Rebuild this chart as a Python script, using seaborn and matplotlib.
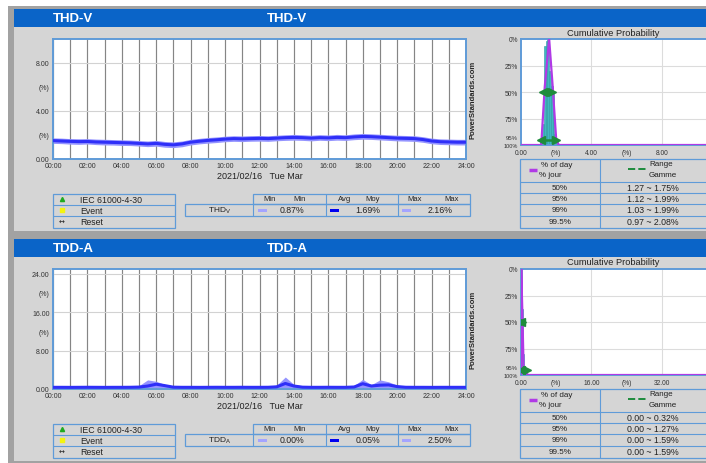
import numpy as np
import matplotlib
matplotlib.use('Agg')
import matplotlib.pyplot as plt
import seaborn as sns
from matplotlib.patches import Rectangle

sns.set_style('white')
plt.rcParams['font.family'] = ['Liberation Sans', 'DejaVu Sans']

# time axis: half-hour samples over one day
hours = np.arange(0, 24.5, 0.5)

thd_avg = [1.53, 1.50, 1.47, 1.45, 1.46, 1.42, 1.40, 1.38, 1.36, 1.34, 1.30, 1.26, 1.30,
           1.22, 1.18, 1.26, 1.40, 1.48, 1.55, 1.60, 1.66, 1.70, 1.68, 1.70, 1.72, 1.70,
           1.74, 1.78, 1.80, 1.78, 1.74, 1.78, 1.76, 1.80, 1.78, 1.84, 1.88, 1.86, 1.82,
           1.78, 1.74, 1.72, 1.70, 1.62, 1.50, 1.44, 1.42, 1.40, 1.40]
thd_min = [1.30, 1.28, 1.24, 1.22, 1.25, 1.20, 1.17, 1.16, 1.13, 1.12, 1.08, 1.03, 1.07,
           0.98, 0.95, 1.02, 1.17, 1.26, 1.32, 1.37, 1.44, 1.47, 1.45, 1.48, 1.49, 1.47,
           1.52, 1.55, 1.57, 1.55, 1.51, 1.56, 1.53, 1.57, 1.55, 1.61, 1.65, 1.63, 1.59,
           1.55, 1.51, 1.49, 1.47, 1.39, 1.27, 1.21, 1.19, 1.17, 1.17]
thd_max = [1.76, 1.74, 1.70, 1.69, 1.70, 1.66, 1.64, 1.62, 1.60, 1.58, 1.54, 1.50, 1.55,
           1.46, 1.43, 1.50, 1.64, 1.72, 1.79, 1.84, 1.90, 1.94, 1.92, 1.95, 1.96, 1.94,
           1.98, 2.02, 2.05, 2.02, 1.98, 2.03, 2.00, 2.05, 2.02, 2.09, 2.13, 2.10, 2.06,
           2.02, 1.98, 1.96, 1.94, 1.86, 1.74, 1.68, 1.66, 1.64, 1.64]

tdd_avg = [0.35, 0.35, 0.34, 0.35, 0.36, 0.35, 0.34, 0.35, 0.35, 0.36, 0.40, 0.62, 1.00,
           0.70, 0.38, 0.35, 0.35, 0.34, 0.35, 0.36, 0.35, 0.35, 0.36, 0.35, 0.35, 0.36,
           0.45, 1.15, 0.62, 0.38, 0.35, 0.35, 0.36, 0.35, 0.35, 0.42, 1.10, 0.62, 0.80,
           0.85, 0.50, 0.36, 0.35, 0.35, 0.34, 0.35, 0.35, 0.35, 0.35]
tdd_min = [0.12, 0.10, 0.12, 0.11, 0.10, 0.12, 0.11, 0.10, 0.12, 0.11, 0.12, 0.20, 0.30,
           0.20, 0.12, 0.11, 0.10, 0.12, 0.11, 0.10, 0.12, 0.11, 0.10, 0.12, 0.11, 0.12,
           0.18, 0.30, 0.18, 0.12, 0.10, 0.11, 0.12, 0.10, 0.11, 0.15, 0.30, 0.20, 0.25,
           0.25, 0.15, 0.12, 0.11, 0.10, 0.12, 0.11, 0.10, 0.12, 0.11]
tdd_max = [0.60, 0.58, 0.60, 0.62, 0.60, 0.58, 0.60, 0.61, 0.60, 0.62, 0.70, 1.90, 1.60,
           0.95, 0.62, 0.60, 0.60, 0.58, 0.60, 0.62, 0.60, 0.60, 0.61, 0.60, 0.60, 0.62,
           0.80, 2.50, 0.95, 0.64, 0.60, 0.60, 0.61, 0.60, 0.60, 0.75, 2.00, 0.90, 1.90,
           1.50, 0.80, 0.62, 0.60, 0.60, 0.58, 0.60, 0.60, 0.60, 0.60]

# cumulative probability panels (y in % of day, 0 at top)
thd_bins = [1.05, 1.15, 1.25, 1.35, 1.45, 1.55, 1.65, 1.75, 1.85, 1.95, 2.05, 2.15]
thd_hist = [1, 3, 20, 93, 98, 100, 70, 56, 50, 10, 4, 1]
thd_curve_x = [0, 1.15, 1.35, 1.6, 1.8, 2.0, 2.15, 20]
thd_curve_y = [100, 100, 45, 0, 45, 95, 100, 100]
thd_ranges = [(50, 1.27, 1.75), (95, 1.12, 1.99)]

tdd_bins = [0.1, 0.3, 0.5, 0.7, 0.9, 1.1, 1.3, 1.5]
tdd_hist = [100, 62, 20, 8, 4, 2, 1, 1]
tdd_curve_x = [0, 0.05, 0.3, 0.6, 1.6, 80]
tdd_curve_y = [100, 0, 40, 95, 100, 100]
tdd_ranges = [(50, 0.00, 0.32), (95, 0.00, 1.27)]

pct_rows = ['50%', '95%', '99%', '99.5%']
thd_table = ['1.27 ~ 1.75%', '1.12 ~ 1.99%', '1.03 ~ 1.99%', '0.97 ~ 2.08%']
tdd_table = ['0.00 ~ 0.32%', '0.00 ~ 1.27%', '0.00 ~ 1.59%', '0.00 ~ 1.59%']

thd_stats = ['0.87%', '1.69%', '2.16%']
tdd_stats = ['0.00%', '0.05%', '2.50%']

W, H = 706, 464
PANEL = '#d5d5d5'
FRAME = '#a2a2a2'
HEADER = '#0a64c8'
EDGE = '#5f9bd8'
MAGENTA = '#b03ae6'
GREEN = '#1e8c3c'
TEAL = '#3fb8c0'

fig = plt.figure(figsize=(W / 100, H / 100), dpi=100)
bg = fig.add_axes([0, 0, 1, 1])
bg.set_xlim(0, W)
bg.set_ylim(H, 0)
bg.axis('off')


def rect(x0, y0, x1, y1, fc='none', ec='none', lw=0.8):
    bg.add_patch(Rectangle((x0, y0), x1 - x0, y1 - y0, facecolor=fc, edgecolor=ec, lw=lw))


def seg(xs, ys, color=EDGE, lw=0.8):
    bg.plot(xs, ys, color=color, lw=lw, solid_capstyle='butt')


def add_ax(l, t, r, b):
    return fig.add_axes([l / W, 1 - b / H, (r - l) / W, (b - t) / H])


def box(ax):
    for s in ax.spines.values():
        s.set_color(EDGE)
        s.set_linewidth(1.4)


def txt(x, y, s, size=5.8, ha='center', **kw):
    bg.text(x, y, s, fontsize=size, ha=ha, va='center', color='#222222', **kw)


rect(8, 7, W + 5, H + 5, fc=FRAME)


def panel(off, title, lo, avg, hi, ymax, yticks, ylabels, ygrid, stat_name, stats,
          bins, hist, bw, cx, cy, cxmax, cxticks, cxlabels, cgrid, ranges, table):
    rect(14, off + 10, W + 5, off + 232, fc=PANEL)
    rect(14, off + 10, W + 5, off + 28, fc=HEADER)
    bg.text(73, off + 19.5, title, color='white', fontsize=9.5, fontweight='bold',
            ha='center', va='center')
    bg.text(287, off + 19.5, title, color='white', fontsize=9.5, fontweight='bold',
            ha='center', va='center')

    # trend chart
    ax = add_ax(53, off + 40, 466, off + 160)
    ax.fill_between(hours, lo, hi, color='#9494ff', lw=0, zorder=2)
    sns.lineplot(x=hours, y=avg, ax=ax, color='#2f2ff8', lw=2.2, zorder=3)
    ax.set_xlim(0, 24)
    ax.set_ylim(0, ymax)
    ax.set_xticks(range(0, 25, 2))
    ax.set_xticklabels([f'{h:02d}:00' for h in range(0, 25, 2)])
    ax.set_xticks(range(0, 25), minor=True)
    ax.grid(axis='x', which='both', color='#858585', lw=0.85)
    for g in ygrid:
        ax.axhline(g, color='#d2d2d2', lw=0.8, zorder=1)
    ax.set_yticks(yticks)
    ax.set_yticklabels(ylabels)
    ax.tick_params(which='both', length=0, labelsize=5, pad=2.5, labelcolor='#333333')
    ax.set_xlabel('2021/02/16   Tue Mar', fontsize=6.5, labelpad=1, color='#222222')
    ax.set_ylabel('')
    box(ax)
    ax.text(1.017, 0.5, 'PowerStandards.com', transform=ax.transAxes, rotation=90,
            fontsize=5.5, fontweight='bold', ha='center', va='center')

    # legend box
    rect(53, off + 195, 175, off + 229, ec=EDGE, lw=0.9)
    seg([53, 175], [off + 206, off + 206])
    seg([53, 175], [off + 217, off + 217])
    bg.plot(62, off + 199.5, marker='^', color='#1faa1f', ms=3)
    bg.plot(62, off + 211, marker='s', color='#f4f40c', ms=3)
    txt(62, off + 222.5, '↔', size=5, family='DejaVu Sans')
    for y, s in zip([200.5, 211.5, 223], ['IEC 61000-4-30', 'Event', 'Reset']):
        txt(80, off + y, s, ha='left', size=6.3)

    # statistics table
    rect(253, off + 195, 470, off + 205, ec=EDGE, lw=0.9)
    rect(185, off + 205, 470, off + 217, ec=EDGE, lw=0.9)
    seg([253, 253], [off + 205, off + 217])
    seg([326, 326], [off + 195, off + 217])
    seg([398, 398], [off + 195, off + 217])
    for x, s in zip([270, 300, 345, 373, 415, 452], ['Min', 'Min', 'Avg', 'Moy', 'Max', 'Max']):
        txt(x, off + 200, s, size=5.5)
    txt(220, off + 211, stat_name, size=6)
    for x0, c, xv, v in zip([258, 330, 402], ['#a4a4ff', '#0000f0', '#a4a4ff'],
                            [292, 368, 440], stats):
        rect(x0, off + 209.5, x0 + 9, off + 212.5, fc=c)
        txt(xv, off + 211, v, size=6.3)

    # cumulative probability
    txt(613, off + 33, 'Cumulative Probability', size=6.7)
    cp = add_ax(521, off + 40, 741, off + 146)
    cp.bar(bins, np.negative(hist), bottom=100, width=bw, color=TEAL,
           edgecolor='#2b9aa2', lw=0.4, zorder=2)
    sns.lineplot(x=cx, y=cy, ax=cp, color=MAGENTA, lw=1.6, sort=False,
                 estimator=None, zorder=3)
    for p, a, b in ranges:
        cp.plot([a, b], [p, p], color=GREEN, lw=1.8, zorder=4)
        cp.plot([a], [p], marker='<', color=GREEN, ms=6, zorder=4)
        cp.plot([b], [p], marker='>', color=GREEN, ms=6, zorder=4)
    cp.set_xlim(0, cxmax)
    cp.set_ylim(100, 0)
    for g in cgrid:
        cp.axvline(g, color='#dcdcdc', lw=0.8, zorder=1)
    for g in [25, 50, 75]:
        cp.axhline(g, color='#dcdcdc', lw=0.8, zorder=1)
    cp.set_xticks(cxticks)
    cp.set_xticklabels(cxlabels)
    cp.set_yticks([0, 25, 50, 75, 95, 100])
    cp.set_yticklabels(['0%', '25%', '50%', '75%', '95%', '100%'])
    cp.tick_params(length=0, labelsize=4.8, pad=2, labelcolor='#333333')
    cp.tick_params(axis='x', pad=3.2)
    ylab = cp.get_yticklabels()
    ylab[4].set_va('bottom')
    ylab[4].set_fontsize(4.3)
    ylab[5].set_fontsize(4.0)
    cp.set_xlabel('')
    cp.set_ylabel('')
    box(cp)

    # probability table
    rect(520, off + 160, W + 5, off + 229, ec=EDGE, lw=0.9)
    for y in [183, 194, 205, 217]:
        seg([520, W + 5], [off + y, off + y])
    seg([600, 600], [off + 160, off + 229])
    seg([529, 537], [off + 171, off + 171], color=MAGENTA, lw=2.5)
    txt(541, off + 165.5, '% of day', ha='left')
    txt(539, off + 175.5, '% jour', ha='left')
    bg.plot([628, 646], [off + 170, off + 170], color=GREEN, lw=1.4, ls='--')
    txt(661, off + 164.5, 'Range')
    txt(663, off + 176, 'Gamme')
    for y, p, r in zip([188.5, 199.5, 211, 223], pct_rows, table):
        txt(560, off + y, p)
        txt(653, off + y, r, size=6.3)


panel(0, 'THD-V', thd_min, thd_avg, thd_max, 10, [0, 2, 4, 6, 8],
      ['0.00', '(%)', '4.00', '(%)', '8.00'], [4, 8], 'THD$_\\mathregular{V}$', thd_stats,
      thd_bins, thd_hist, 0.1, thd_curve_x, thd_curve_y, 12.5, [0, 2, 4, 6, 8],
      ['0.00', '(%)', '4.00', '(%)', '8.00'], [4, 8, 12], thd_ranges, thd_table)

panel(230, 'TDD-A', tdd_min, tdd_avg, tdd_max, 25, [0, 8, 12, 16, 20, 24],
      ['0.00', '8.00', '(%)', '16.00', '(%)', '24.00'], [8, 16, 24],
      'TDD$_\\mathregular{A}$', tdd_stats, tdd_bins, tdd_hist, 0.2, tdd_curve_x,
      tdd_curve_y, 50, [0, 8, 16, 24, 32], ['0.00', '(%)', '16.00', '(%)', '32.00'],
      [16, 32, 48], tdd_ranges, tdd_table)

fig.savefig('out.png', dpi=100)
